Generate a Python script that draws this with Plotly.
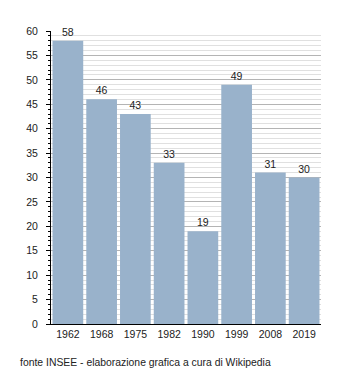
import plotly.graph_objects as go

# Census years and population counts
years = ["1962", "1968", "1975", "1982", "1990", "1999", "2008", "2019"]
population = [58, 46, 43, 33, 19, 49, 31, 30]

source_note = "fonte INSEE - elaborazione grafica a cura di Wikipedia"

bar_color = "#99b2cb"
font_family = "Liberation Sans, Arial, sans-serif"

fig = go.Figure(
    go.Bar(
        x=years,
        y=population,
        marker=dict(color=bar_color, line=dict(width=0)),
        text=[str(v) for v in population],
        textposition="outside",
        cliponaxis=False,
        textfont=dict(family=font_family, size=10.5, color="#222222"),
    )
)

fig.update_layout(
    width=350,
    height=373,
    margin=dict(l=51, r=29, t=31, b=49),
    paper_bgcolor="white",
    plot_bgcolor="white",
    bargap=0.09,
    showlegend=False,
    font=dict(family=font_family, size=10.5, color="#222222"),
    annotations=[
        dict(
            text=source_note,
            xref="paper", yref="paper",
            x=-33 / 270, y=-38 / 293,
            xanchor="left", yanchor="middle",
            showarrow=False,
            font=dict(family=font_family, size=10.4, color="#222222"),
        )
    ],
)

fig.update_xaxes(
    type="category",
    showline=True,
    linecolor="black",
    linewidth=1,
    ticks="",
    showgrid=False,
    tickfont=dict(size=10.5),
)

fig.update_yaxes(
    range=[0, 60],
    dtick=5,
    showline=True,
    linecolor="black",
    linewidth=1,
    ticks="outside",
    ticklen=4,
    tickcolor="black",
    ticklabelstandoff=6,
    showgrid=True,
    gridcolor="#b4b4b4",
    gridwidth=1,
    zeroline=False,
    tickfont=dict(size=10.5),
    minor=dict(
        dtick=1,
        showgrid=True,
        gridcolor="#e0e0e0",
        gridwidth=1,
        ticks="outside",
        ticklen=2,
        tickcolor="black",
    ),
)

fig.write_html("out.html")
